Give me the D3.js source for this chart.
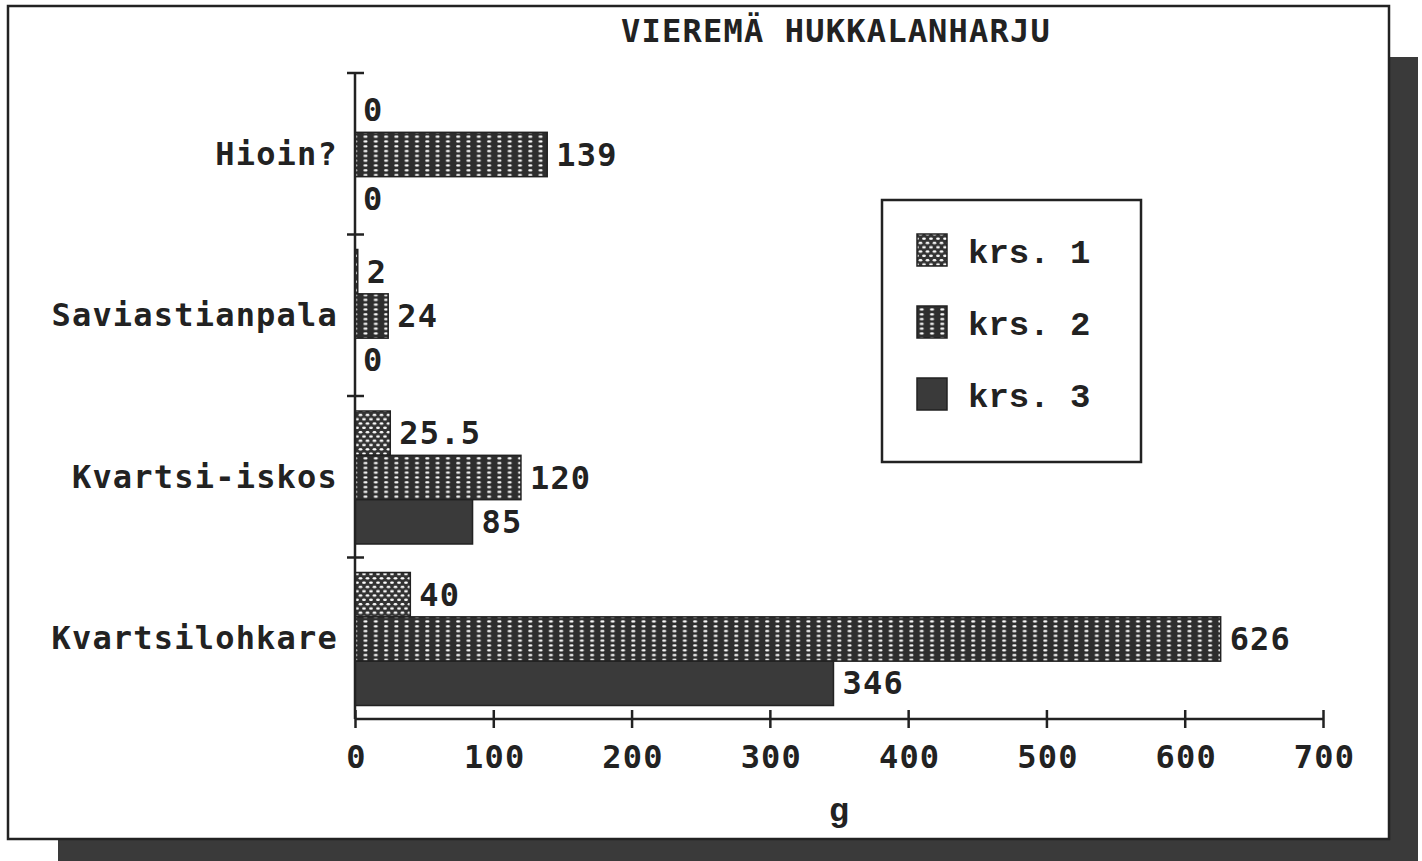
<!DOCTYPE html>
<html><head><meta charset="utf-8">
<script src="https://cdn.jsdelivr.net/npm/d3@7/dist/d3.min.js"></script>
<style>
html,body{margin:0;padding:0;background:#fff;}
svg{display:block;}
</style></head>
<body>
<svg id="chart" width="1422" height="861"></svg>
<script>
const title = "VIEREMÄ HUKKALANHARJU";
const categories = ["Hioin?", "Saviastianpala", "Kvartsi-iskos", "Kvartsilohkare"];
const series = ["krs. 1", "krs. 2", "krs. 3"];
const krs1 = [0, 2, 25.5, 40];
const krs2 = [139, 24, 120, 626];
const krs3 = [0, 0, 85, 346];
const xTicks = [0, 100, 200, 300, 400, 500, 600, 700];
const xLabel = "g";

const values = [krs1, krs2, krs3];
const svg = d3.select("#chart");
const ink = "#222";
const mono = "'DejaVu Sans Mono', monospace";
const serifMono = "'Liberation Mono', 'Courier New', monospace";
const FS = 32, LS = 1.2;

// patterns
const defs = svg.append("defs");
const p1 = defs.append("pattern").attr("id","pat1").attr("patternUnits","userSpaceOnUse")
  .attr("width",7).attr("height",8.6);
p1.append("rect").attr("width",7).attr("height",8.6).attr("fill","#333");
[[3.5,2.15],[0,6.45],[7,6.45]].forEach(([cx,cy])=>{
  p1.append("ellipse").attr("cx",cx).attr("cy",cy).attr("rx",1.9).attr("ry",1.2).attr("fill","#fff");
});
const p2 = defs.append("pattern").attr("id","pat2").attr("patternUnits","userSpaceOnUse")
  .attr("width",10.3).attr("height",4.8);
p2.append("rect").attr("width",10.3).attr("height",4.8).attr("fill","#2e2e2e");
p2.append("rect").attr("x",3).attr("y",1.3).attr("width",4).attr("height",2.1).attr("rx",1).attr("fill","#fff");
const fills = ["url(#pat1)", "url(#pat2)", "#3a3a3a"];

// shadow + frame
svg.append("rect").attr("x",58).attr("y",57).attr("width",1360).attr("height",804).attr("fill","#3a3a3a");
svg.append("rect").attr("x",8).attr("y",6).attr("width",1381).attr("height",833)
  .attr("fill","#fff").attr("stroke",ink).attr("stroke-width",2.5);

// title
svg.append("text").attr("x",836).attr("y",31).attr("text-anchor","middle").attr("dominant-baseline","central")
  .attr("font-family",mono).attr("font-weight","bold").attr("font-size",FS).attr("letter-spacing",LS)
  .attr("fill",ink).text(title);

const x = d3.scaleLinear().domain([0,700]).range([355,1323]);
const y = d3.scaleBand().domain(categories).range([73,719]).padding(0);
const sub = d3.scaleBand().domain(series).range([15,148]).padding(0);

// bars
const g = svg.append("g");
categories.forEach((c,ci)=>{
  series.forEach((s,si)=>{
    const v = values[si][ci];
    const y0 = y(c)+sub(s);
    if (v > 0) {
      g.append("rect").attr("x",x(0)).attr("y",y0).attr("width",x(v)-x(0)).attr("height",sub.bandwidth())
        .attr("fill",fills[si]).attr("stroke",ink).attr("stroke-width",1.5);
    }
    g.append("text").attr("x",x(v)+(v>0?9:8)).attr("y",y0+sub.bandwidth()/2)
      .attr("dominant-baseline","central").attr("font-family",mono).attr("font-weight","bold")
      .attr("font-size",FS).attr("letter-spacing",LS).attr("fill",ink).text(String(v));
  });
});

// x axis
const xAxis = d3.axisBottom(x).tickValues(xTicks).tickSize(9).tickFormat(d3.format("d"));
const xa = svg.append("g").attr("transform","translate(0,719)").call(xAxis);
xa.select(".domain").attr("stroke",ink).attr("stroke-width",2.5).attr("d",`M${x(0)},0H${x(700)}`);
xa.selectAll(".tick line").attr("stroke",ink).attr("stroke-width",2.5).attr("y1",-9).attr("y2",9);
xa.selectAll(".tick text").attr("y",38).attr("dy",0).attr("dominant-baseline","central")
  .attr("font-family",mono).attr("font-weight","bold").attr("font-size",FS).attr("letter-spacing",LS)
  .attr("fill",ink).attr("dx",1);

// y axis
const yAxis = d3.axisLeft(y).tickSize(0);
const ya = svg.append("g").attr("transform","translate(355,0)").call(yAxis);
ya.select(".domain").attr("stroke",ink).attr("stroke-width",2.5).attr("d","M0,73V719");
ya.selectAll(".tick text").attr("x",-17).attr("dy",0).attr("dominant-baseline","central")
  .attr("font-family",mono).attr("font-weight","bold").attr("font-size",FS).attr("letter-spacing",LS)
  .attr("fill",ink);
const bounds = categories.map(c=>y(c));
ya.selectAll(".sep").data(bounds).enter().append("line").attr("class","sep")
  .attr("x1",-8).attr("x2",9).attr("y1",d=>d).attr("y2",d=>d).attr("stroke",ink).attr("stroke-width",2.5);

// x label
svg.append("text").attr("x",839).attr("y",812).attr("text-anchor","middle").attr("dominant-baseline","central")
  .attr("font-family",serifMono).attr("font-weight","bold").attr("font-size",34).attr("fill",ink).text(xLabel);

// legend
const lg = svg.append("g");
lg.append("rect").attr("x",882).attr("y",200).attr("width",259).attr("height",262)
  .attr("fill","#fff").attr("stroke",ink).attr("stroke-width",2.5);
const lcy = [250, 322, 394];
series.forEach((s,i)=>{
  lg.append("rect").attr("x",917).attr("y",lcy[i]-16).attr("width",30).attr("height",32)
    .attr("fill",fills[i]).attr("stroke",ink).attr("stroke-width",1.5);
  lg.append("text").attr("x",968).attr("y",lcy[i]+4).attr("dominant-baseline","central")
    .attr("font-family",serifMono).attr("font-weight","bold").attr("font-size",34).attr("fill",ink).text(s);
});
</script>
</body></html>
